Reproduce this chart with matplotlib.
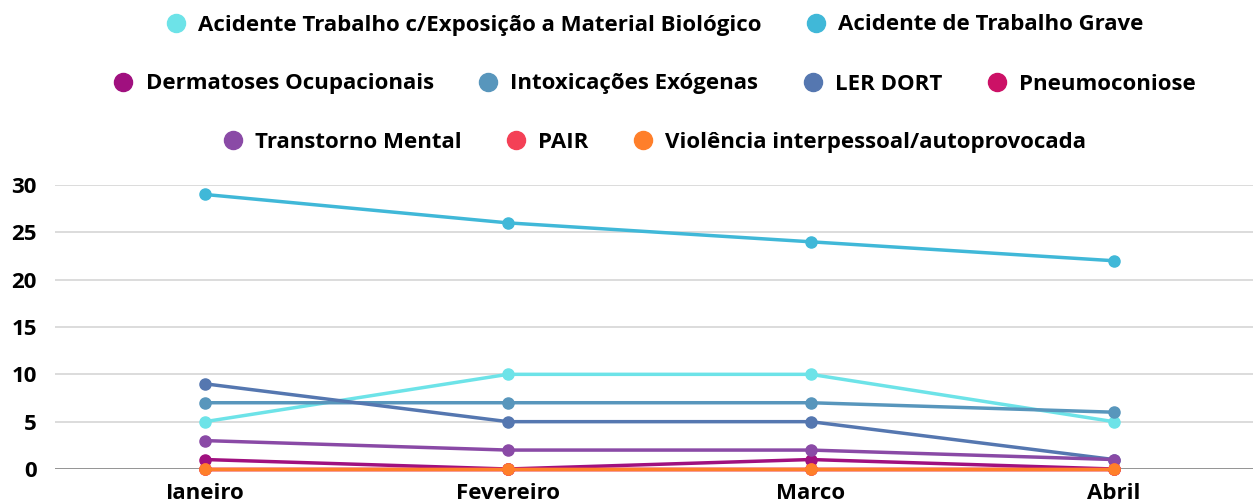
import matplotlib
matplotlib.use("Agg")
import matplotlib.pyplot as plt
from matplotlib.lines import Line2D

plt.rcParams['font.family'] = ['Open Sans', 'DejaVu Sans']

months = ["Janeiro", "Fevereiro", "Março", "Abril"]
series_names = [
    "Acidente Trabalho c/Exposição a Material Biológico",
    "Acidente de Trabalho Grave",
    "Dermatoses Ocupacionais",
    "Intoxicações Exógenas",
    "LER DORT",
    "Pneumoconiose",
    "Transtorno Mental",
    "PAIR",
    "Violência interpessoal/autoprovocada",
]
acid_bio = [5, 10, 10, 5]
acid_grave = [29, 26, 24, 22]
dermatoses = [1, 0, 1, 0]
intox = [7, 7, 7, 6]
ler_dort = [9, 5, 5, 1]
pneumo = [0, 0, 0, 0]
transtorno = [3, 2, 2, 1]
pair = [0, 0, 0, 0]
violencia = [0, 0, 0, 0]
values = [acid_bio, acid_grave, dermatoses, intox, ler_dort, pneumo, transtorno, pair, violencia]
colors = ["#6de3e8", "#40b8d8", "#a0107f", "#5896bc", "#5577b0",
          "#cc1166", "#8a4aa6", "#f44056", "#ff7f2a"]
y_ticks = [0, 5, 10, 15, 20, 25, 30]

fig = plt.figure(figsize=(12.53, 4.99), dpi=100)
ax = fig.add_axes([55/1253, 30/499, 1 - 55/1253, 284/499])

x = list(range(len(months)))
for name, vals, c in zip(series_names, values, colors):
    ax.plot(x, vals, color=c, lw=2.5, marker='o', markersize=8, clip_on=False, label=name, zorder=3)

ax.set_xlim(-0.495, 3.46)
ax.set_ylim(0, 30)
ax.set_yticks(y_ticks)
ax.set_xticks(x)
ax.set_xticklabels(months, fontsize=16, fontweight='bold')
for lab in ax.get_yticklabels():
    lab.set_fontsize(16)
    lab.set_fontweight('bold')
ax.tick_params(axis='y', length=0, pad=13)
ax.tick_params(axis='x', length=0, pad=10)
ax.grid(axis='y', color='#d6d6d6', lw=1.2, zorder=0)
ax.set_axisbelow(True)
for s in ax.spines.values():
    s.set_visible(False)
ax.axhline(0, color='#888888', lw=1.2, zorder=1)

rows = [[0, 1], [2, 3, 4, 5], [6, 7, 8]]
row_y = [1 - 25/499, 1 - 84/499, 1 - 142/499]
for r, yy in zip(rows, row_y):
    handles = [Line2D([], [], ls='none', marker='o', markersize=13, color=colors[i]) for i in r]
    labels = [series_names[i] for i in r]
    fig.legend(handles, labels, loc='center', bbox_to_anchor=(654/1253, yy), ncol=len(r),
               frameon=False, prop={'weight': 'bold', 'size': 16}, handletextpad=0.5,
               columnspacing=1.95, handlelength=1.0, borderpad=0)

fig.savefig("out.png", dpi=100)
